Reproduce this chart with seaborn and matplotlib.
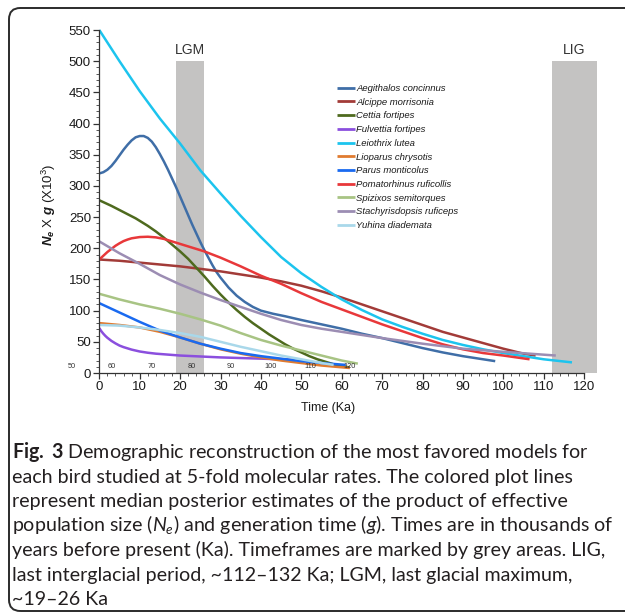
import numpy as np
import pandas as pd
import matplotlib
matplotlib.use("Agg")
import matplotlib.pyplot as plt
import seaborn as sns
from matplotlib.patches import FancyBboxPatch
from matplotlib.ticker import FixedLocator
from matplotlib.font_manager import FontProperties

# ---------------- data ----------------
species = ["Aegithalos concinnus", "Alcippe morrisonia", "Cettia fortipes",
           "Fulvettia fortipes", "Leiothrix lutea", "Lioparus chrysotis",
           "Parus monticolus", "Pomatorhinus ruficollis", "Spizixos semitorques",
           "Stachyrisdopsis ruficeps", "Yuhina diademata"]
colors = ["#3F6EA7", "#A23B38", "#4E6A1E", "#8B4FDE", "#1CC4EE", "#E07B30",
          "#1A6AF0", "#E8383A", "#A8C484", "#9C8DB3", "#A9D8EA"]

aeg_x = [0, 1, 2, 3, 4, 5, 6, 7, 8, 9, 10, 11, 12, 13, 14, 15, 16, 17, 18, 19, 20, 21, 22, 23, 24, 25,
         26, 27, 28, 29, 30, 32, 34, 36, 38, 40, 43, 46, 50, 55, 60, 65, 70, 75, 80, 85, 90, 95, 98]
aeg_y = [320, 322, 326, 332, 340, 349, 358, 366, 373, 378, 380, 380, 377, 371, 362, 351, 339, 326, 312, 298,
         283, 268, 253, 238, 224, 210, 197, 185, 173, 162, 153, 137, 124, 114, 106, 100, 95, 91, 85, 78,
         71, 63, 56, 48, 40, 33, 27, 22, 19]

alc_x = [0, 5, 10, 15, 20, 25, 30, 35, 40, 45, 50, 55, 60, 65, 70, 75, 80, 85, 90, 95, 100, 105, 108]
alc_y = [182, 180, 177, 174, 171, 167, 163, 158, 153, 147, 140, 131, 121, 110, 99, 88, 77, 66, 57, 48, 39, 31, 28]

cet_x = [0, 3, 6, 9, 12, 14, 16, 18, 20, 22, 24, 26, 28, 30, 32, 34, 36, 38, 40, 42, 44, 46, 48, 50,
         52, 54, 56, 58, 60, 62]
cet_y = [277, 268, 258, 248, 236, 227, 217, 206, 195, 183, 169, 155, 140, 126, 113, 101, 90, 80, 71, 62,
         54, 46, 39, 33, 27, 22, 18, 14, 11, 9]

ful_x = [0, 0.5, 1, 1.5, 2, 3, 4, 5, 6, 7, 8, 10, 12, 14, 17, 20, 25, 30, 35, 40, 45, 48]
ful_y = [72, 67, 63, 59.5, 56.5, 51.5, 47.5, 44, 41.5, 39.5, 37.5, 34.5, 32.5, 31, 29.5, 28, 26.5, 25, 24, 23, 22, 21.5]

lei_x = [0, 5, 10, 15, 20, 25, 30, 35, 40, 45, 50, 55, 60, 65, 70, 75, 80, 85, 90, 95, 100, 105, 110, 117]
lei_y = [550, 500, 452, 408, 368, 325, 288, 252, 218, 186, 160, 138, 118, 101, 86, 74, 63, 53, 45, 38, 32, 27, 22, 17]

lio_x = [0, 5, 10, 15, 20, 25, 30, 35, 40, 45, 50, 55, 62]
lio_y = [80, 77, 73, 66, 57, 47, 38, 31, 25, 20, 16, 12, 8]

par_x = [0, 5, 10, 15, 20, 25, 30, 35, 40, 45, 50, 55, 61]
par_y = [112, 97, 82, 68, 57, 47, 39, 32, 27, 23, 19, 16, 13]

pom_x = [0, 1, 2, 3, 4, 5, 6, 7, 8, 10, 12, 14, 16, 18, 20, 22, 24, 26, 28, 30, 35, 40, 45, 50, 55, 60,
         65, 70, 75, 80, 85, 90, 95, 100, 106.5]
pom_y = [182, 188, 194, 199, 204, 208, 211.5, 214, 216, 218, 218.5, 217.5, 215, 211, 207, 203, 199, 195,
         190, 185, 171, 156, 143, 128, 114, 102, 90, 78, 67, 56, 46, 38, 32, 28, 22]

spi_x = [0, 5, 10, 15, 20, 25, 30, 35, 40, 45, 50, 55, 60, 64]
spi_y = [127, 118, 110, 103, 95, 86, 76, 64, 53, 44, 36, 28, 20, 15]

sta_x = [0, 5, 10, 15, 20, 25, 30, 35, 40, 45, 50, 55, 60, 70, 80, 90, 100, 113]
sta_y = [211, 192, 175, 157, 142, 129, 117, 106, 95, 85, 77, 71, 66, 56, 47, 39, 34, 28]

yuh_x = [0, 5, 10, 15, 20, 25, 30, 35, 40, 45, 50, 55, 58]
yuh_y = [77, 76, 73, 69, 64, 58, 50, 42, 35, 28, 22, 16, 13]

series_x = [aeg_x, alc_x, cet_x, ful_x, lei_x, lio_x, par_x, pom_x, spi_x, sta_x, yuh_x]
series_y = [aeg_y, alc_y, cet_y, ful_y, lei_y, lio_y, par_y, pom_y, spi_y, sta_y, yuh_y]

x_ticks = list(range(0, 121, 10))
y_ticks = list(range(0, 551, 50))
alt_labels = [50, 60, 70, 80, 90, 100, 110, 120]
lgm = (19, 26)
lig = (112, 132)
band_top = 500

caption_lines = [
    r"$\mathbf{Fig.}$ $\mathbf{3}$ Demographic reconstruction of the most favored models for",
    "each bird studied at 5-fold molecular rates. The colored plot lines",
    "represent median posterior estimates of the product of effective",
    r"population size ($\mathit{N_e}$) and generation time ($\mathit{g}$). Times are in thousands of",
    "years before present (Ka). Timeframes are marked by grey areas. LIG,",
    "last interglacial period, ~112\u2013132 Ka; LGM, last glacial maximum,",
    "~19\u201326 Ka",
]

# ---------------- style ----------------
sns.set_theme(style="white")
plt.rcParams["font.family"] = ["Liberation Sans", "DejaVu Sans"]
plt.rcParams["mathtext.fontset"] = "custom"
plt.rcParams["mathtext.rm"] = "Liberation Sans"
plt.rcParams["mathtext.it"] = "Lato:italic"
plt.rcParams["mathtext.bf"] = "Lato:bold"
plt.rcParams["mathtext.bfit"] = "Liberation Sans:italic:bold"

df = pd.concat([pd.DataFrame({"time": xs, "value": ys, "species": sp})
                for sp, xs, ys in zip(species, series_x, series_y)], ignore_index=True)

W, H = 625, 616
fig = plt.figure(figsize=(W / 100, H / 100), dpi=100)
fig.patch.set_facecolor("white")

# rounded frame
frame = FancyBboxPatch((9 / W, 1 - 611 / H), (650 - 9) / W, (611 - 8) / H,
                       boxstyle="round,pad=0,rounding_size=0.018",
                       transform=fig.transFigure, fill=False, ec="#2b2b2b", lw=1.4,
                       mutation_aspect=W / H)
fig.add_artist(frame)

px_per_x = 4.04
px_per_y = 0.6236
x0_px, y0_px = 99.3, 373
xmax, ymax = 123, 553
ax = fig.add_axes([x0_px / W, (H - y0_px) / H, xmax * px_per_x / W, ymax * px_per_y / H])
ax.set_facecolor("none")

ax.fill_betweenx([0, band_top], lgm[0], lgm[1], color="#C4C3C2", lw=0, zorder=0)
ax.fill_betweenx([0, band_top], lig[0], lig[1], color="#C4C3C2", lw=0, zorder=0)
ax.text(sum(lgm) / 2, band_top + 6, "LGM", ha="center", va="bottom", fontsize=10, color="#333333")
ax.text(117.5, band_top + 6, "LIG", ha="center", va="bottom", fontsize=10, color="#333333")

sns.lineplot(data=df, x="time", y="value", hue="species", hue_order=species,
             palette=dict(zip(species, colors)), estimator=None, sort=False,
             lw=1.8, ax=ax, legend=True)
for ln in ax.get_lines():
    ln.set_solid_joinstyle("round")
    ln.set_solid_capstyle("butt")

for v in alt_labels:
    ax.text(-6.7 + (v - 50) * 0.982, 11, str(v), ha="center", va="center",
            fontsize=5.3, color="#333333", clip_on=False, zorder=5)

ax.set_xlim(0, xmax)
ax.set_ylim(0, ymax)
ax.xaxis.set_major_locator(FixedLocator(x_ticks))
ax.yaxis.set_major_locator(FixedLocator(y_ticks))
ax.xaxis.set_minor_locator(FixedLocator(list(range(0, 121, 2))))
ax.yaxis.set_minor_locator(FixedLocator(list(range(0, 551, 10))))
ax.set_xticklabels([str(t) for t in x_ticks])
ax.set_yticklabels([str(t) for t in y_ticks])
ax.tick_params(which="major", direction="out", length=4, width=0.9, color="#333333",
               labelsize=9.5, labelcolor="#1a1a1a", pad=2)
ax.tick_params(which="minor", direction="out", length=2, width=0.7, color="#555555")
ax.tick_params(axis="x", which="both", bottom=True)
ax.tick_params(axis="y", which="both", left=True)
for s in ["top", "right"]:
    ax.spines[s].set_visible(False)
for s in ["left", "bottom"]:
    ax.spines[s].set_color("#333333")
    ax.spines[s].set_linewidth(0.9)
ax.spines["bottom"].set_bounds(0, 120)
ax.spines["left"].set_bounds(0, 550)

ax.set_xlabel("Time (Ka)", fontsize=9, color="#1a1a1a", labelpad=3)
ax.xaxis.set_label_coords((328 - x0_px) / (xmax * px_per_x), -0.085)
ax.set_ylabel(r"$\mathbfit{N_e}$ X $\mathbfit{g}$ (X10$^{3}$)", fontsize=9.5, color="#1a1a1a")
ax.yaxis.set_label_coords(-0.083, 0.487)

handles, labels = ax.get_legend_handles_labels()
ax.get_legend().remove()
leg = fig.legend(handles, labels, loc="upper left", bbox_to_anchor=(337 / W, 1 - 84 / H),
                 frameon=False, prop=FontProperties(family="Liberation Sans", style="italic", size=6.8),
                 handlelength=1.9, handletextpad=0.15, labelspacing=0.5,
                 borderpad=0, borderaxespad=0)
for ln in leg.get_lines():
    ln.set_linewidth(2.0)
for t in leg.get_texts():
    t.set_color("#1a1a1a")

# caption
texts = []
for i, s in enumerate(caption_lines):
    t = fig.text(12 / W, 1 - (458 + 24.5 * i) / H, s, fontsize=13, family="Lato",
                 va="baseline", ha="left", color="#231f20")
    texts.append(t)
fig.canvas.draw()
w = texts[3].get_window_extent().width
fs = 13 * 600 / w
for t in texts:
    t.set_fontsize(fs)

fig.savefig("out.png", dpi=100, facecolor="white")
